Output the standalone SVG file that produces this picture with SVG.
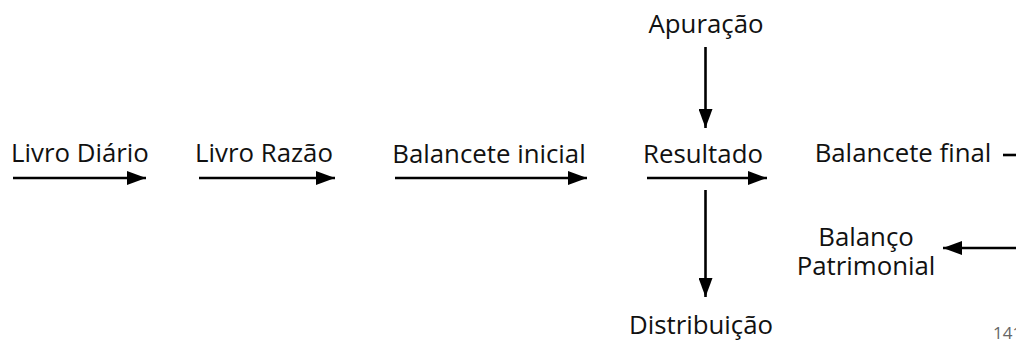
<svg xmlns="http://www.w3.org/2000/svg" width="1016" height="340" viewBox="0 0 1016 340">
<style>
.t{font-family:"Open Sans","Noto Sans","Liberation Sans",sans-serif;font-size:25.8px;fill:#111;text-anchor:middle}
.c{stroke:#000;stroke-width:2.6;fill:none}
.pg{font-family:"Open Sans","Noto Sans","Liberation Sans",sans-serif;font-size:17px;fill:#666}
</style>
<defs>
<marker id="ah" markerUnits="userSpaceOnUse" markerWidth="20" markerHeight="14" refX="19" refY="7" orient="auto" viewBox="0 0 20 14">
<path d="M0,0 L19,7 L0,14 Z" fill="#000"/>
</marker>
</defs>
<rect width="1016" height="340" fill="#fff"/>
<g id="connectors">
<line class="c" x1="13" y1="178" x2="146" y2="178" marker-end="url(#ah)"/>
<line class="c" x1="199" y1="178" x2="335" y2="178" marker-end="url(#ah)"/>
<line class="c" x1="395" y1="178" x2="587" y2="178" marker-end="url(#ah)"/>
<line class="c" x1="647" y1="178" x2="767" y2="178" marker-end="url(#ah)"/>
<line class="c" x1="705.5" y1="47" x2="705.5" y2="128" marker-end="url(#ah)"/>
<line class="c" x1="705.5" y1="190" x2="705.5" y2="297" marker-end="url(#ah)"/>
<line class="c" x1="1003" y1="155" x2="1020" y2="155"/>
<line class="c" x1="1020" y1="248" x2="943" y2="248" marker-end="url(#ah)"/>
</g>
<g id="livro-diario"><text class="t" x="80" y="162">Livro Diário</text></g>
<g id="livro-razao"><text class="t" x="264" y="162">Livro Razão</text></g>
<g id="balancete-inicial"><text class="t" x="489" y="163">Balancete inicial</text></g>
<g id="apuracao"><text class="t" x="706" y="33">Apuração</text></g>
<g id="resultado"><text class="t" x="703" y="163">Resultado</text></g>
<g id="distribuicao"><text class="t" x="701" y="334">Distribuição</text></g>
<g id="balancete-final"><text class="t" x="903" y="162">Balancete final</text></g>
<g id="balanco-patrimonial"><text class="t" x="866" y="246">Balanço</text><text class="t" x="866" y="275">Patrimonial</text></g>
<g id="page-number"><text class="pg" x="993" y="339">141</text></g>
</svg>
